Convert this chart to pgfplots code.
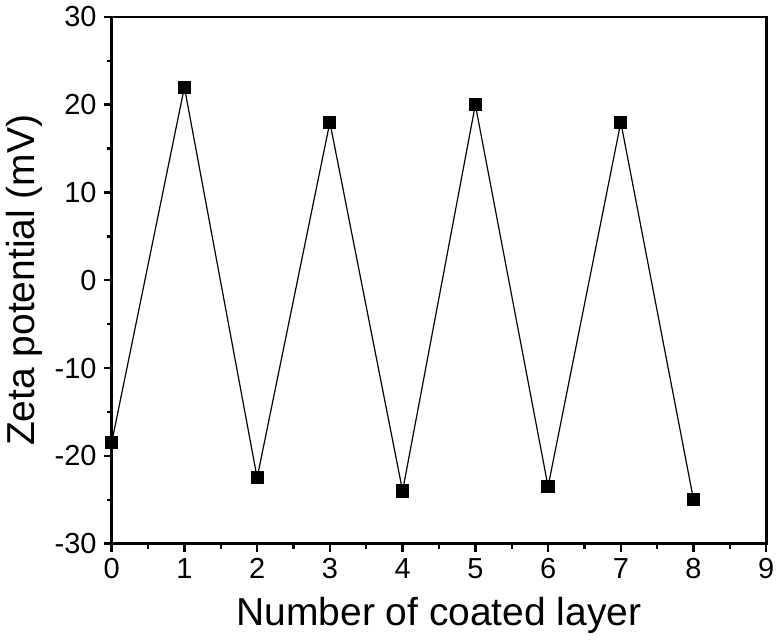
\documentclass[border=0pt]{standalone}
\usepackage{pgfplots}
\pgfplotsset{compat=1.18}
\usepackage{fontspec}
\setmainfont{Liberation Sans}
\begin{document}
\begin{tikzpicture}
    \begin{axis}[
        scale only axis,
        width=327.5pt,
        height=263.5pt,
        xmin=0, xmax=9,
        ymin=-30, ymax=30,
        xtick={0,1,...,9},
        ytick={-30,-20,...,30},
        minor x tick num=1,
        minor y tick num=1,
        tick pos=left,
        tick align=outside,
        major tick length=4pt,
        minor tick length=2.5pt,
        axis line style={line width=1.4pt},
        every tick/.style={line width=1.2pt, black},
        tick label style={font=\fontsize{14.5}{16}\selectfont},
        /pgf/number format/assume math mode=true,
        label style={font=\fontsize{19.5}{22}\selectfont},
        xlabel={Number of coated layer},
        ylabel={Zeta potential (mV)},
        xlabel style={yshift=-2pt},
        ylabel style={yshift=-1pt},
        clip=false,
    ]
    \addplot[black, line width=0.6pt, mark=square*, mark size=3pt,
             mark options={solid, fill=black}]
        coordinates {
            (0,-18.5) (1,22) (2,-22.5) (3,18) (4,-24)
            (5,20) (6,-23.5) (7,18) (8,-25)
        };
    \end{axis}
\end{tikzpicture}
\end{document}
